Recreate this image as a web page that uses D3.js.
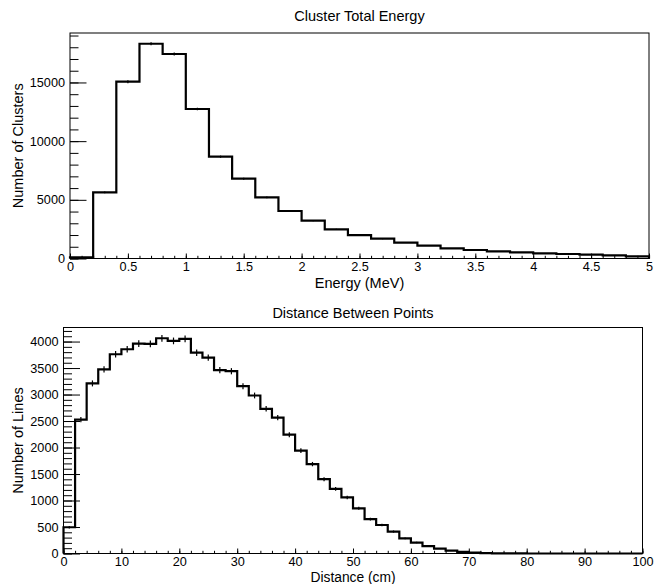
<!DOCTYPE html>
<html>
<head>
<meta charset="utf-8">
<script src="https://cdn.jsdelivr.net/npm/d3@7"></script>
<style>
  body { margin: 0; background: #fff; }
  svg { display: block; font-family: "Liberation Sans", Arial, sans-serif; }
</style>
</head>
<body>
<svg id="chart" width="655" height="584"></svg>
<script>
// Cluster total energy, 25 bins of 0.2 MeV from 0 to 5
const energyEdges = [0, 5]
const energyCounts = [100, 5640, 15065, 18300, 17425, 12738, 8674, 6800, 5215, 4047,
  3221, 2490, 2000, 1690, 1350, 1090, 870, 725, 610, 525, 440, 385, 330, 270, 185]
const energyMajor = [0, 0.5, 1, 1.5, 2, 2.5, 3, 3.5, 4, 4.5, 5]
const countMajorTop = [0, 5000, 10000, 15000]

// Distance between points, 50 bins of 2 cm from 0 to 100
const distanceEdges = [0, 100]
const distanceCounts = [495, 2525, 3210, 3475, 3760, 3855, 3960, 3955, 4062, 4012,
  4050, 3790, 3697, 3462, 3440, 3158, 2982, 2730, 2565, 2243,
  1940, 1687, 1403, 1219, 1058, 853, 648, 538, 414, 286,
  206, 140, 93, 55, 29, 15, 8, 4, 2, 1,
  0, 0, 0, 0, 0, 0, 0, 0, 0, 0]
const distanceMajor = [0, 10, 20, 30, 40, 50, 60, 70, 80, 90, 100]
const countMajorBottom = [0, 500, 1000, 1500, 2000, 2500, 3000, 3500, 4000]

const svg = d3.select('#chart')

function histPanel(cfg) {
  const {box, edges, counts, title, xTitle, yTitle} = cfg
  const g = svg.append('g')

  const x = d3.scaleLinear().domain(edges).range([box.left, box.right])
  const y = d3.scaleLinear().domain([0, d3.max(counts) * 1.05]).range([box.bottom, box.top])
  const bw = (edges[1] - edges[0]) / counts.length

  // minor ticks first, then major ones with labels
  g.append('g')
    .attr('transform', `translate(0,${box.bottom})`)
    .call(d3.axisBottom(x).tickValues(d3.range(edges[0], edges[1] + bw / 10, cfg.xMinorStep))
      .tickSizeInner(-2.7).tickSizeOuter(0).tickFormat(''))
  g.append('g')
    .attr('transform', `translate(0,${box.bottom})`)
    .call(d3.axisBottom(x).tickValues(cfg.xMajor)
      .tickSizeInner(-5).tickSizeOuter(0).tickPadding(cfg.xPad).tickFormat(d3.format('~g')))

  g.append('g')
    .attr('transform', `translate(${box.left},0)`)
    .call(d3.axisLeft(y).tickValues(d3.range(0, y.domain()[1], cfg.yMinorStep))
      .tickSizeInner(-8.5).tickSizeOuter(0).tickFormat(''))
  g.append('g')
    .attr('transform', `translate(${box.left},0)`)
    .call(d3.axisLeft(y).tickValues(cfg.yMajor)
      .tickSizeInner(-16.5).tickSizeOuter(0).tickPadding(5).tickFormat(d3.format('d')))

  g.selectAll('.domain').remove()
  g.selectAll('.tick line').attr('stroke', '#000').attr('stroke-width', 1)
  g.selectAll('.tick text').attr('font-size', 12.7).attr('fill', '#000')
    .attr('font-family', '"Liberation Sans", Arial, sans-serif')

  // frame
  g.append('rect')
    .attr('x', box.left).attr('y', box.top)
    .attr('width', box.right - box.left).attr('height', box.bottom - box.top)
    .attr('fill', 'none').attr('stroke', '#000').attr('stroke-width', 1)

  // step outline
  const pts = [[edges[0], 0]]
  counts.forEach((c, i) => {
    pts.push([edges[0] + i * bw, c], [edges[0] + (i + 1) * bw, c])
  })
  pts.push([edges[1], 0])
  g.append('path')
    .attr('d', d3.line().x(d => x(d[0])).y(d => y(d[1]))(pts))
    .attr('fill', 'none').attr('stroke', '#000').attr('stroke-width', 2.2)
    .attr('stroke-linejoin', 'miter')

  // statistical error bars
  g.append('g').selectAll('line')
    .data(counts.map((c, i) => ({c, mid: edges[0] + (i + 0.5) * bw})).filter(d => d.c > 0))
    .join('line')
    .attr('x1', d => x(d.mid)).attr('x2', d => x(d.mid))
    .attr('y1', d => y(d.c - Math.sqrt(d.c))).attr('y2', d => y(d.c + Math.sqrt(d.c)))
    .attr('stroke', '#000').attr('stroke-width', 1.2)

  const cx = (box.left + box.right) / 2
  g.append('text').text(title)
    .attr('x', cx).attr('y', cfg.titleY).attr('text-anchor', 'middle')
    .attr('font-size', 14.5).attr('fill', '#000')
  g.append('text').text(xTitle)
    .attr('x', cx).attr('y', cfg.xTitleY).attr('text-anchor', 'middle')
    .attr('font-size', cfg.xTitleSize).attr('fill', '#000')
  g.append('text').text(yTitle)
    .attr('transform', `translate(23,${(box.top + box.bottom) / 2}) rotate(-90)`)
    .attr('text-anchor', 'middle')
    .attr('font-size', 14.5).attr('fill', '#000')
}

histPanel({
  box: {left: 70, right: 649, top: 33, bottom: 258.5},
  edges: energyEdges, counts: energyCounts,
  xMajor: energyMajor, xMinorStep: 0.1, xPad: 3.5,
  yMajor: countMajorTop, yMinorStep: 1000,
  title: 'Cluster Total Energy', titleY: 20.7,
  xTitle: 'Energy (MeV)', xTitleY: 287.7, xTitleSize: 14.5,
  yTitle: 'Number of Clusters'
})

histPanel({
  box: {left: 63.5, right: 642.5, top: 327.5, bottom: 553.5},
  edges: distanceEdges, counts: distanceCounts,
  xMajor: distanceMajor, xMinorStep: 2, xPad: 3.8,
  yMajor: countMajorBottom, yMinorStep: 100,
  title: 'Distance Between Points', titleY: 318.3,
  xTitle: 'Distance (cm)', xTitleY: 581.7, xTitleSize: 13.8,
  yTitle: 'Number of Lines'
})
</script>
</body>
</html>
